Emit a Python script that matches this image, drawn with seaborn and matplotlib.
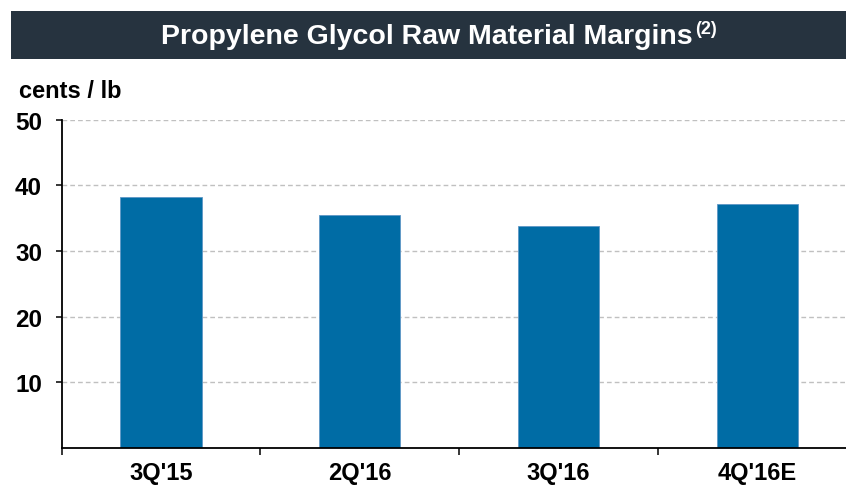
import matplotlib
matplotlib.use("Agg")
import matplotlib.pyplot as plt
import seaborn as sns
import pandas as pd
from matplotlib.patches import Rectangle

categories = ["3Q'15", "2Q'16", "3Q'16", "4Q'16E"]
margins = [38.3, 35.5, 33.8, 37.1]
y_ticks = [10, 20, 30, 40, 50]

sns.set_theme(style="white")
plt.rcParams['font.family'] = ['Liberation Sans', 'DejaVu Sans']

W, H = 846, 489
fig = plt.figure(figsize=(W / 100, H / 100), dpi=100)

# title bar
fig.patches.append(Rectangle((11 / W, 1 - 60 / H), (846 - 11) / W, 48 / H,
                             transform=fig.transFigure, facecolor='#26333f',
                             edgecolor='none', zorder=0))
fig.text(693 / W, 1 - 37 / H, "Propylene Glycol Raw Material Margins",
         ha='right', va='center', color='white', fontsize=20.5, fontweight='bold')
fig.text(695 / W, 1 - 30 / H, "(2)", ha='left', va='center', color='white',
         fontsize=13, fontweight='bold')

fig.text(19 / W, 1 - 98 / H, "cents / lb", ha='left', va='baseline',
         fontsize=17, fontweight='bold', color='black')

left_px, right_px = 61.5, 61.5 + 4 * 198.8
top_px, bot_px = 120.7, 449
ax = fig.add_axes([left_px / W, 1 - bot_px / H, (right_px - left_px) / W,
                   (bot_px - top_px) / H])

df = pd.DataFrame({"period": categories, "margin": margins})
sns.barplot(data=df, x="period", y="margin", ax=ax, color='#006ca5',
            saturation=1, width=0.41, edgecolor='#5e97c6', linewidth=0.6,
            zorder=3)

ax.set_ylim(0, 50)
ax.set_xlim(-0.5, 3.5)
ax.set_yticks(y_ticks)
ax.set_yticklabels([str(t) for t in y_ticks])
ax.set_xticks([-0.5, 0.5, 1.5, 2.5], minor=False)
ax.set_xticklabels([])
ax.set_xticks(range(len(categories)), minor=True)
ax.set_xticklabels(categories, minor=True)
ax.tick_params(axis='x', which='major', length=5, width=1.1, color='black',
               direction='out', bottom=True)
ax.tick_params(axis='x', which='minor', length=0, pad=9.5, labelsize=17,
               bottom=True)
ax.tick_params(axis='y', length=4, width=1.1, color='black', direction='out',
               pad=10, labelsize=17.5, left=True)
for lab in ax.get_xticklabels(minor=True) + ax.get_yticklabels():
    lab.set_fontweight('bold')
    lab.set_color('black')

for y in y_ticks:
    ax.axhline(y, color='#c0c0c0', lw=1.0, dashes=(3.4, 2.2), zorder=1)

ax.grid(False)
for s in ['top', 'right']:
    ax.spines[s].set_visible(False)
for s in ['left', 'bottom']:
    ax.spines[s].set_color('black')
    ax.spines[s].set_linewidth(1.3)
    ax.spines[s].set_zorder(5)
ax.set_xlabel("")
ax.set_ylabel("")

fig.savefig("out.png", dpi=100)
